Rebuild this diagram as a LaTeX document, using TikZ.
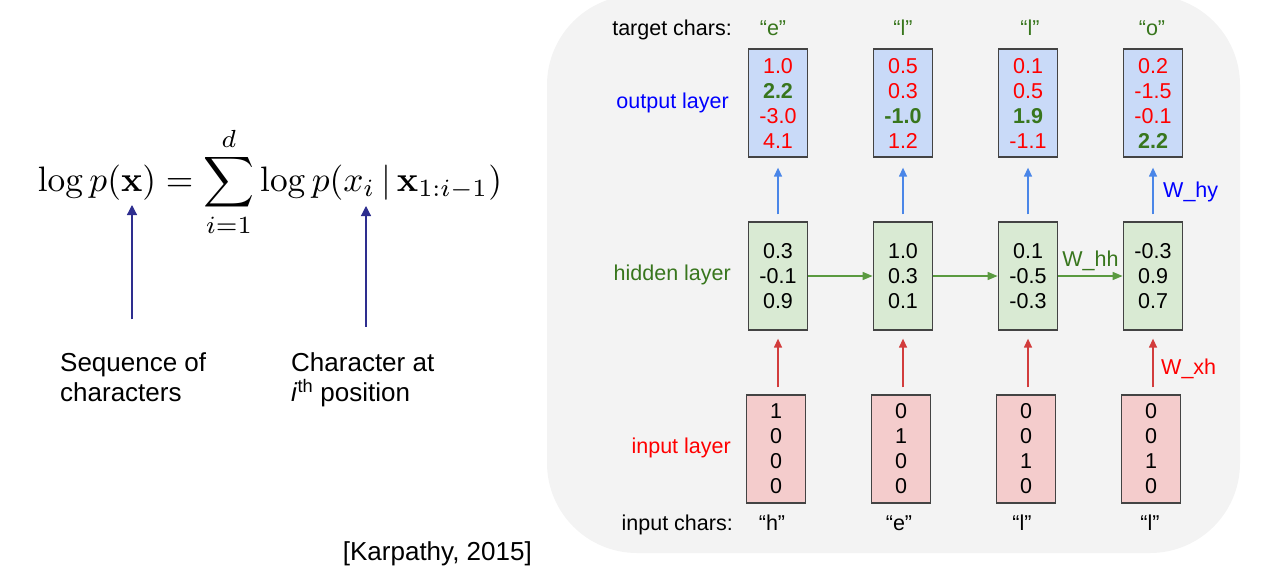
\documentclass[tikz,border=0pt]{standalone}
\usepackage[no-math]{fontspec}
\setmainfont{Liberation Sans}
\usepackage{amsmath}
\usetikzlibrary{arrows.meta}
\definecolor{panelbg}{HTML}{F3F3F3}
\definecolor{boxline}{HTML}{434343}
\definecolor{outfill}{HTML}{C9DAF8}
\definecolor{hidfill}{HTML}{D9EAD3}
\definecolor{infill}{HTML}{F4CCCC}
\definecolor{dgreen}{HTML}{38761D}
\definecolor{pureblue}{HTML}{0000FF}
\definecolor{purered}{HTML}{FF0000}
\definecolor{arrblue}{HTML}{4A86E8}
\definecolor{arrred}{HTML}{D23C3C}
\definecolor{arrgreen}{HTML}{5A9A40}
\definecolor{navy}{HTML}{2E2E8F}
\newcommand\fnum{\fontsize{21.5}{25}\selectfont}
\newcommand\fbig{\fontsize{26}{30}\selectfont}
\newcommand\rd[1]{\textcolor{purered}{#1}}
\newcommand\gb[1]{\textcolor{dgreen}{\textbf{#1}}}
\begin{document}
\begin{tikzpicture}[x=1pt,y=-1pt,
  vecbox/.style={draw=boxline, line width=1.3pt, minimum width=59.5pt, minimum height=108pt, inner sep=0pt, align=center, font=\fnum},
  outbox/.style={vecbox, fill=outfill},
  hidbox/.style={vecbox, fill=hidfill},
  inbox/.style={vecbox, fill=infill},
  lbl/.style={font=\fnum, inner sep=0pt},
  biglbl/.style={font=\fbig, inner sep=0pt},
  bluearrow/.style={draw=arrblue, line width=1.4pt, -{Triangle[length=9pt,width=8pt]}},
  redarrow/.style={draw=arrred, line width=1.4pt, -{Triangle[length=9pt,width=8pt]}},
  greenarrow/.style={draw=arrgreen, line width=1.4pt, -{Triangle[length=10pt,width=8pt]}},
  navyarrow/.style={draw=navy, line width=1.2pt, -{Triangle[length=10pt,width=10pt]}}
]
\useasboundingbox (0,0) rectangle (1263,573);
\fill[panelbg, rounded corners=90pt] (547,-5) rectangle (1240,553);

% formula
\node[inner sep=0pt] (formula) at (270,181.5) {\resizebox{464pt}{!}{$\displaystyle \log p(\mathbf{x}) = \sum_{i=1}^{d} \log p(x_i \,|\, \mathbf{x}_{1:i-1})$}};
\coordinate (fa1b) at (132,319.3);
\coordinate (fa1t) at (132,205);
\coordinate (fa2b) at (366,326.7);
\coordinate (fa2t) at (366,206);
\draw[navyarrow] (fa1b) -- (fa1t);
\draw[navyarrow] (fa2b) -- (fa2t);
\node[biglbl, anchor=base west] (seq1) at (60,371.7) {Sequence of};
\node[biglbl, anchor=base west] (seq2) at (60,401.7) {characters};
\node[biglbl, anchor=base west] (chr1) at (291,371.7) {Character at};
\node[biglbl, anchor=base west] (chr2) at (291,401.7) {\textit{i}\textsuperscript{th} position};
\node[biglbl, anchor=base west] (cite) at (342.7,560) {[Karpathy, 2015]};

% boxes
\node[outbox] (out1) at (778,103) {\rd{1.0}\\\gb{2.2}\\\rd{-3.0}\\\rd{4.1}};
\node[outbox] (out2) at (903,103) {\rd{0.5}\\\rd{0.3}\\\gb{-1.0}\\\rd{1.2}};
\node[outbox] (out3) at (1028,103) {\rd{0.1}\\\rd{0.5}\\\gb{1.9}\\\rd{-1.1}};
\node[outbox] (out4) at (1153,103) {\rd{0.2}\\\rd{-1.5}\\\rd{-0.1}\\\gb{2.2}};

\node[hidbox] (hid1) at (778,276) {0.3\\-0.1\\0.9};
\node[hidbox] (hid2) at (903,276) {1.0\\0.3\\0.1};
\node[hidbox] (hid3) at (1028,276) {0.1\\-0.5\\-0.3};
\node[hidbox] (hid4) at (1153,276) {-0.3\\0.9\\0.7};

\node[inbox] (in1) at (776,449) {1\\0\\0\\0};
\node[inbox] (in2) at (901,449) {0\\1\\0\\0};
\node[inbox] (in3) at (1026,449) {0\\0\\1\\0};
\node[inbox] (in4) at (1151,449) {0\\0\\1\\0};

% arrows
\foreach \k in {1,2,3,4}{
  \draw[bluearrow, shorten <=7pt, shorten >=10pt] (hid\k.north) -- (out\k.south);
  \draw[redarrow, shorten <=7pt, shorten >=8pt] (hid\k.south |- in\k.north) -- (hid\k.south);
}
\draw[greenarrow] (hid1.east) -- (hid2.west);
\draw[greenarrow] (hid2.east) -- (hid3.west);
\draw[greenarrow] (hid3.east) -- (hid4.west);

% labels
\node[lbl, anchor=base east] (tc) at (732,35) {target chars:};
\node[lbl, anchor=base, text=dgreen] (t1) at (773,35) {“e”};
\node[lbl, anchor=base, text=dgreen] (t2) at (903,35) {“l”};
\node[lbl, anchor=base, text=dgreen] (t3) at (1030,35) {“l”};
\node[lbl, anchor=base, text=dgreen] (t4) at (1152,35) {“o”};
\node[lbl, anchor=base east, text=pureblue] (ol) at (729,108) {output layer};
\node[lbl, anchor=base east, text=dgreen] (hl) at (731,280) {hidden layer};
\node[lbl, anchor=base east, text=purered] (il) at (731,453) {input layer};
\node[lbl, anchor=base east] (ic) at (733,530) {input chars:};
\node[lbl, anchor=base] (c1) at (772,530) {“h”};
\node[lbl, anchor=base] (c2) at (899,530) {“e”};
\node[lbl, anchor=base] (c3) at (1022,530) {“l”};
\node[lbl, anchor=base] (c4) at (1150,530) {“l”};
\node[lbl, anchor=base west, text=pureblue] (why) at (1163,197) {W\_hy};
\node[lbl, anchor=base west, text=purered] (wxh) at (1161,374) {W\_xh};
\node[lbl, anchor=base, text=dgreen] (whh) at (1090.5,266) {W\_hh};
\end{tikzpicture}
\end{document}
